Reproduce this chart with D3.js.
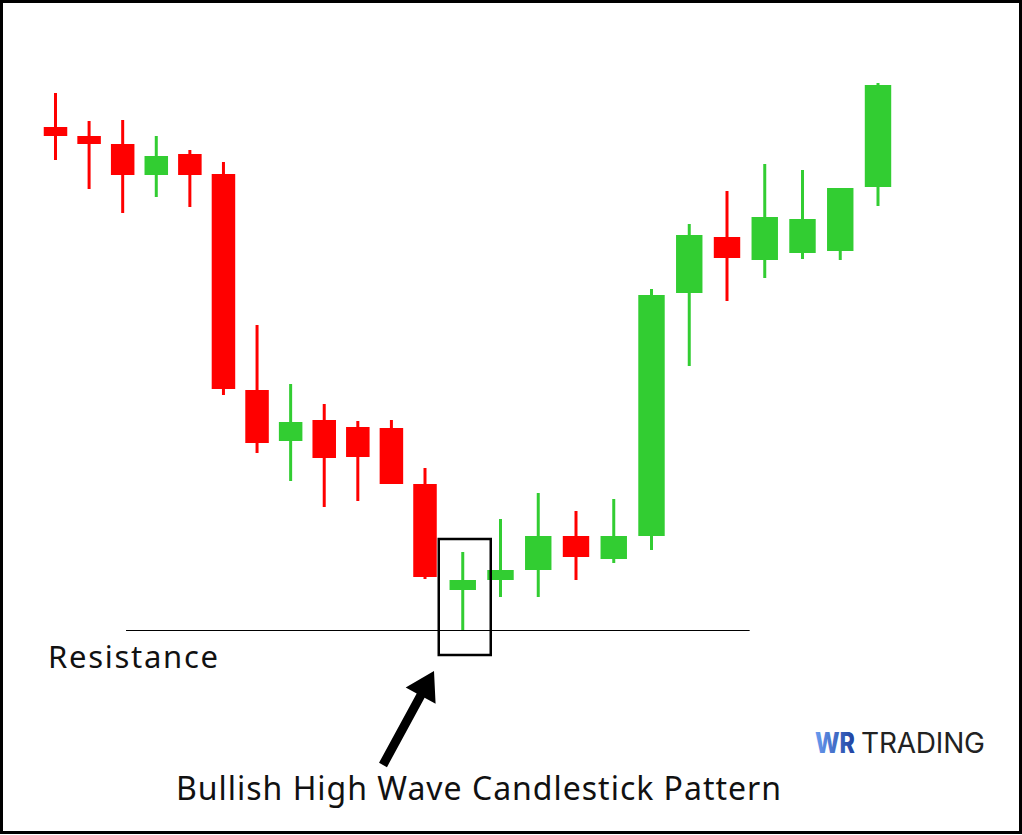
<!DOCTYPE html>
<html>
<head>
<meta charset="utf-8">
<script src="https://cdn.jsdelivr.net/npm/d3@7"></script>
<style>
  html, body { margin: 0; padding: 0; background: #fff; }
  svg { display: block; }
</style>
</head>
<body>
<svg id="chart" width="1022" height="835"></svg>
<script>
// ---- Data (price units) ----
const opens  = [573, 564, 556, 525, 546, 526, 310, 259, 280, 273, 272, 216, 110, 120, 130, 164, 141, 164, 407, 463, 440, 447, 449, 513];
const highs  = [607, 579, 580, 564, 550, 538, 375, 316, 296, 279, 280, 232, 148, 181, 207, 189, 201, 411, 476, 509, 536, 530, 512, 617];
const lows   = [540, 511, 487, 503, 493, 305, 247, 219, 193, 199, 216, 121,  70, 103, 103, 120, 137, 150, 334, 399, 422, 441, 440, 494];
const closes = [564, 556, 525, 544, 525, 311, 257, 278, 242, 243, 216, 123, 120, 130, 164, 143, 164, 405, 465, 442, 483, 481, 512, 615];
const resistanceLevel = 70;
const patternIndex = 12;
const resistanceLabel = "Resistance";
const patternLabel = "Bullish High Wave Candlestick Pattern";

const candles = opens.map((o, i) => ({ i, open: o, high: highs[i], low: lows[i], close: closes[i] }));

const svg = d3.select("#chart");
const W = 1022, H = 835;

// scales
const x = d3.scaleLinear().domain([0, 11, 23]).range([55.5, 425, 878]);
const y = d3.scaleLinear().domain([0, 600]).range([700, 100]);
const spacingAt = i => i < 11.5 ? (x(11) - x(0)) / 11 : (x(23) - x(11)) / 12;
const bodyW = i => spacingAt(i) * 0.7;

const RED = "#ff0000", GREEN = "#32cd32";

// border
svg.append("rect").attr("x", 1.5).attr("y", 1.5).attr("width", W - 3).attr("height", H - 4)
  .attr("fill", "#fff").attr("stroke", "#000").attr("stroke-width", 3);

// resistance line
svg.append("line")
  .attr("x1", x(2.1)).attr("x2", x(19.6))
  .attr("y1", Math.round(y(resistanceLevel)) + 0.5).attr("y2", Math.round(y(resistanceLevel)) + 0.5)
  .attr("stroke", "#000").attr("stroke-width", 1);

// candles
const g = svg.append("g");
const c = g.selectAll("g.candle").data(candles).join("g").attr("class", "candle");
c.append("line")
  .attr("x1", d => x(d.i)).attr("x2", d => x(d.i))
  .attr("y1", d => y(d.high)).attr("y2", d => y(d.low))
  .attr("stroke", d => d.close >= d.open ? GREEN : RED)
  .attr("stroke-width", 3);
c.append("rect")
  .attr("x", d => x(d.i) - bodyW(d.i) / 2)
  .attr("width", d => bodyW(d.i))
  .attr("y", d => y(Math.max(d.open, d.close)))
  .attr("height", d => Math.max(1, Math.abs(y(d.open) - y(d.close))))
  .attr("fill", d => d.close >= d.open ? GREEN : RED);

// highlight box around pattern candle
const pc = candles[patternIndex];
const boxL = x(pc.i) - 24, boxR = x(pc.i) + 28;
const boxT = y(pc.high) - 13, boxB = y(pc.low) + 25;
svg.append("rect")
  .attr("x", boxL).attr("y", boxT).attr("width", boxR - boxL).attr("height", boxB - boxT)
  .attr("fill", "none").attr("stroke", "#000").attr("stroke-width", 2.5);

// arrow
(function () {
  const tail = [383, 765], tip = [434, 671];
  const dx = tip[0] - tail[0], dy = tip[1] - tail[1];
  const len = Math.hypot(dx, dy);
  const ux = dx / len, uy = dy / len;
  const px = -uy, py = ux;
  const headLen = 28, headHalf = 17, shaftHalf = 4.5;
  const bx = tip[0] - ux * headLen, by = tip[1] - uy * headLen;
  const pts = [
    [tail[0] + px * shaftHalf, tail[1] + py * shaftHalf],
    [bx + px * shaftHalf, by + py * shaftHalf],
    [bx + px * headHalf, by + py * headHalf],
    tip,
    [bx - px * headHalf, by - py * headHalf],
    [bx - px * shaftHalf, by - py * shaftHalf],
    [tail[0] - px * shaftHalf, tail[1] - py * shaftHalf]
  ];
  svg.append("path").attr("d", d3.line()(pts) + "Z").attr("fill", "#000");
})();

// labels
svg.append("text").attr("x", 48).attr("y", 668)
  .attr("font-family", "'Noto Sans', 'Open Sans', sans-serif").attr("font-size", 31)
  .attr("textLength", 170).attr("lengthAdjust", "spacing")
  .attr("fill", "#111").text(resistanceLabel);

svg.append("text").attr("x", 176).attr("y", 800)
  .attr("font-family", "'Noto Sans', 'Open Sans', sans-serif").attr("font-size", 32)
  .attr("textLength", 605).attr("lengthAdjust", "spacing")
  .attr("fill", "#111").text(patternLabel);

// logo
const defs = svg.append("defs");
const grad = defs.append("linearGradient").attr("id", "wrgrad").attr("x1", "0%").attr("x2", "100%");
grad.append("stop").attr("offset", "0%").attr("stop-color", "#6a9cf0");
grad.append("stop").attr("offset", "100%").attr("stop-color", "#1d3f9e");
svg.append("text").attr("x", 815).attr("y", 753)
  .attr("font-family", "Inter, 'Open Sans', sans-serif").attr("font-size", 28).attr("font-weight", 800)
  .attr("textLength", 40).attr("lengthAdjust", "spacingAndGlyphs")
  .attr("fill", "url(#wrgrad)").text("WR");
svg.append("text").attr("x", 861).attr("y", 753)
  .attr("font-family", "Inter, 'Open Sans', sans-serif").attr("font-size", 28).attr("font-weight", 400)
  .attr("fill", "#222").attr("textLength", 124).attr("lengthAdjust", "spacing").text("TRADING");
</script>
</body>
</html>
